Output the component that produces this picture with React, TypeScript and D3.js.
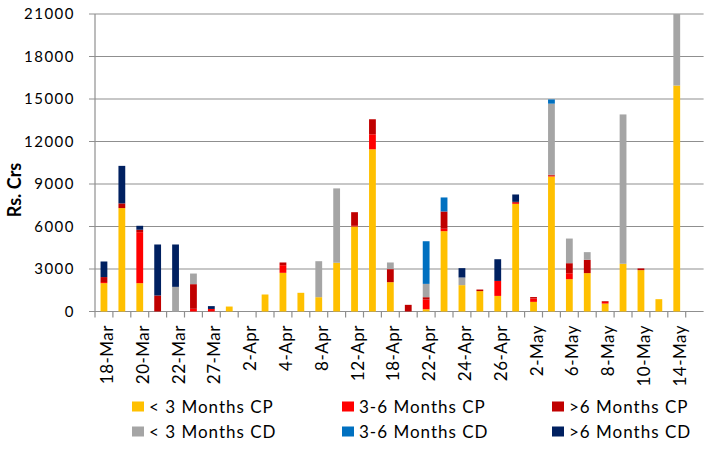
import React from "react";
import * as d3 from "d3";

const categories = [
  "18-Mar","19-Mar","20-Mar","21-Mar","22-Mar","26-Mar","27-Mar","28-Mar",
  "2-Apr","3-Apr","4-Apr","7-Apr","8-Apr","9-Apr","12-Apr","17-Apr",
  "18-Apr","21-Apr","22-Apr","23-Apr","24-Apr","25-Apr","26-Apr","30-Apr",
  "2-May","5-May","6-May","7-May","8-May","9-May","10-May","12-May",
  "14-May","15-May",
];

const lt3CP = [2000,7300,2000,0,0,0,0,350,0,1200,2730,1320,1010,3440,6000,11450,2070,0,160,5670,1860,1440,1100,7600,680,9530,2280,2710,560,3370,2920,870,15950,0];
const m36CP = [80,0,3600,0,0,190,180,0,0,0,540,0,0,0,50,1060,0,0,680,170,0,0,1060,70,240,60,420,0,120,0,0,0,0,0];
const gt6CP = [350,330,170,1130,0,1740,0,0,0,0,190,0,0,0,960,1060,920,470,170,1220,0,110,0,70,100,60,710,940,50,0,120,0,0,0];
const lt3CD = [0,0,0,0,1740,750,0,0,0,0,0,0,2540,5250,0,0,470,0,940,0,540,0,0,0,0,5020,1740,540,0,10540,0,0,5050,0];
const m36CD = [0,0,0,0,0,0,0,0,0,0,0,0,0,0,0,0,0,0,3010,990,0,0,0,0,0,300,0,0,0,0,0,0,0,0];
const gt6CD = [1100,2650,280,3600,2990,0,200,0,0,0,0,0,0,0,0,0,0,0,0,0,660,0,1530,520,0,0,0,0,0,0,0,0,0,0];

const seriesNames = ["< 3 Months CP","3-6 Months CP",">6 Months CP","< 3 Months CD","3-6 Months CD",">6 Months CD"];
const seriesColors = ["#FFC000","#FF0000","#C00000","#A5A5A5","#0070C0","#002060"];
const yTicks = [0,3000,6000,9000,12000,15000,18000,21000];

const FONT = "Lato, 'Open Sans', sans-serif";

export default function App() {
  const W = 704, H = 449;
  const left = 95, right = 703.6, top = 14, bottom = 311.5;
  const seriesData = [lt3CP, m36CP, gt6CP, lt3CD, m36CD, gt6CD];
  const rows = categories.map((c, i) => {
    const r: any = { cat: c };
    seriesNames.forEach((s, k) => (r[s] = seriesData[k][i]));
    return r;
  });
  const stack = d3.stack().keys(seriesNames)(rows as any);
  const x = d3.scaleBand().domain(categories).range([left, right]).paddingInner(0.62).paddingOuter(0.31);
  const xb = d3.scaleBand().domain(categories).range([left, right]);
  const y = d3.scaleLinear().domain([0, 21000]).range([bottom, top]);
  const grid = "#8f8f8f";

  const legendCols = [132, 342, 552];
  const legendRows = [401.5, 426.5];

  return (
    <svg width={W} height={H} style={{ position: "absolute", left: 0, top: 0, background: "#fff" }} fontFamily={FONT}>
      {yTicks.map((t) => (
        <g key={t}>
          <line x1={left - 6} x2={right} y1={y(t)} y2={y(t)} stroke={grid} strokeWidth={1.2} />
          <text x={75} y={y(t)} dy="0.36em" textAnchor="end" fontSize={15} letterSpacing={1.5} fill="#000">{t}</text>
        </g>
      ))}
      <line x1={left} x2={left} y1={top} y2={bottom} stroke={grid} strokeWidth={1.2} />
      {categories.map((c, i) => (
        <line key={c} x1={xb(c)!} x2={xb(c)!} y1={bottom} y2={bottom + 6} stroke={grid} strokeWidth={1.2} />
      ))}
      {stack.map((s, k) => (
        <g key={k} fill={seriesColors[k]}>
          {s.map((d: any, i) => {
            const h = y(d[0]) - y(d[1]);
            if (h <= 0) return null;
            return <rect key={i} x={x(categories[i])!} width={x.bandwidth()} y={y(d[1])} height={h} />;
          })}
        </g>
      ))}
      {categories.map((c, i) =>
        i % 2 === 0 ? (
          <text key={c} transform={`translate(${xb(c)! + xb.bandwidth() / 2 + 3},325) rotate(-90)`} dy="0.36em" textAnchor="end" fontSize={17} letterSpacing={0.5} fill="#000">{c}</text>
        ) : null
      )}
      <text transform="translate(15,190) rotate(-90)" dy="0.36em" textAnchor="middle" fontSize={18} fontWeight="bold" fill="#000">Rs. Crs</text>
      {seriesNames.map((s, k) => {
        const cx = legendCols[k % 3];
        const cy = legendRows[Math.floor(k / 3)];
        return (
          <g key={s}>
            <rect x={cx} y={cy} width={12} height={10} fill={seriesColors[k]} />
            <text x={cx + 17} y={cy + 5} dy="0.36em" fontSize={17} letterSpacing={1} fill="#000">{s}</text>
          </g>
        );
      })}
    </svg>
  );
}
